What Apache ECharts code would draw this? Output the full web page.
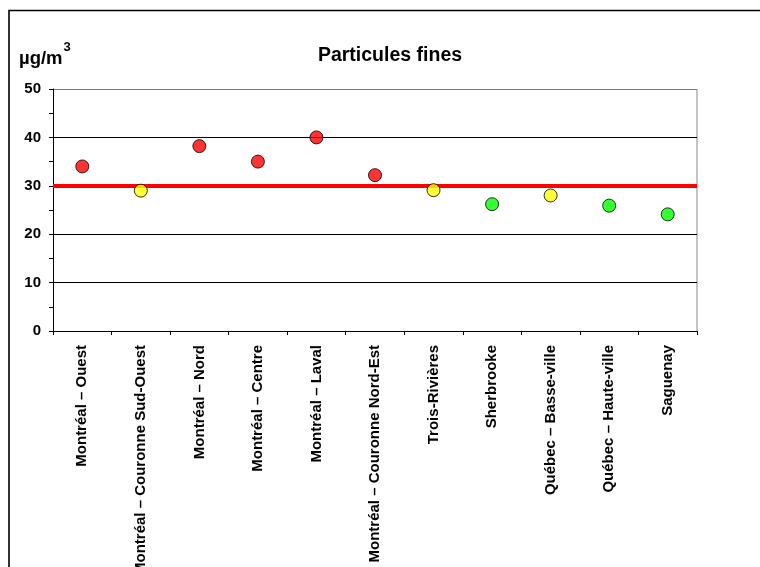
<!DOCTYPE html>
<html>
<head>
<meta charset="utf-8">
<style>
  html, body { margin: 0; padding: 0; background: #fff; }
  #chart { width: 760px; height: 567px; }
</style>
<script src="https://cdn.jsdelivr.net/npm/echarts@6/dist/echarts.min.js"></script>
</head>
<body>
<div id="chart"></div>
<script>
// Stations and fine-particle concentrations (µg/m³)
const stations = [
  'Montréal – Ouest',
  'Montréal – Couronne Sud-Ouest',
  'Montréal – Nord',
  'Montréal – Centre',
  'Montréal – Laval',
  'Montréal – Couronne Nord-Est',
  'Trois-Rivières',
  'Sherbrooke',
  'Québec – Basse-ville',
  'Québec – Haute-ville',
  'Saguenay'
];
const concentrations = [34, 29, 38.2, 35, 40, 32.2, 29.1, 26.2, 28, 25.9, 24.1];
const norm = 30;
const yTicks = [0, 10, 20, 30, 40, 50];

// Colour each station by how it compares with the norm
function levelColor(v) {
  if (v > norm) return '#FF0000';
  if (v >= norm - 3) return '#FFFF00';
  return '#00FF00';
}

const FONT = '"Liberation Sans", Arial, sans-serif';
const chart = echarts.init(document.getElementById('chart'), null, { renderer: 'canvas' });

chart.setOption({
  animation: false,
  backgroundColor: '#fff',
  textStyle: { fontFamily: FONT },
  title: {
    text: 'Particules fines',
    left: 385,
    top: 41,
    textAlign: 'center',
    textStyle: { fontFamily: FONT, fontSize: 19.5, fontWeight: 'bold', color: '#000' }
  },
  graphic: [
    {
      // outer chart frame (open on the right and bottom edges of the view)
      type: 'rect',
      shape: { x: 9, y: 10.5, width: 800, height: 600 },
      style: { fill: 'none', stroke: '#000', lineWidth: 1.6 },
      silent: true
    },
    {
      type: 'text',
      left: 19,
      top: 41,
      style: {
        text: '{u|µg/m}{s|3}',
        rich: {
          u: { fontFamily: FONT, fontSize: 18.5, fontWeight: 'bold', fill: '#000', padding: [8, 0, 0, 0] },
          s: { fontFamily: FONT, fontSize: 13, fontWeight: 'bold', fill: '#000', verticalAlign: 'top', padding: [0, 0, 8, 1] }
        }
      }
    },
    {
      // plot-area border on the right side
      type: 'line',
      shape: { x1: 697, y1: 89, x2: 697, y2: 331 },
      style: { stroke: '#888', lineWidth: 1 },
      silent: true
    }
  ],
  grid: {
    left: 53, right: 63, top: 89, bottom: 236,
    containLabel: false,
    outerBoundsMode: 'none'
  },
  xAxis: {
    type: 'category',
    data: stations,
    boundaryGap: true,
    axisLine: { lineStyle: { color: '#000', width: 1 } },
    axisTick: { show: true, alignWithLabel: false, length: 4, lineStyle: { color: '#000' } },
    axisLabel: {
      rotate: 90,
      interval: 0,
      margin: 14,
      fontFamily: FONT,
      fontSize: 15,
      fontWeight: 'bold',
      color: '#000'
    },
    splitLine: { show: false }
  },
  yAxis: {
    type: 'value',
    min: yTicks[0],
    max: yTicks[yTicks.length - 1],
    interval: 10,
    axisLine: { show: true, lineStyle: { color: '#000', width: 1 } },
    axisTick: { show: true, length: 4, lineStyle: { color: '#000' } },
    minorTick: { show: true, splitNumber: 2, length: 4, lineStyle: { color: '#000' } },
    axisLabel: {
      margin: 12,
      fontFamily: FONT,
      fontSize: 15,
      fontWeight: 'bold',
      color: '#000'
    },
    splitLine: {
      show: true,
      lineStyle: { color: ['#000', '#000', '#000', '#000', '#000', '#777'], width: 1 }
    }
  },
  series: [
    {
      type: 'scatter',
      symbol: 'circle',
      symbolSize: 13,
      data: concentrations.map(v => ({
        value: v,
        itemStyle: { color: levelColor(v), borderColor: '#000', borderWidth: 1 }
      })),
      z: 5,
      markLine: {
        silent: true,
        symbol: ['none', 'none'],
        label: { show: false },
        lineStyle: { color: '#FF0000', width: 4, type: 'solid' },
        data: [{ yAxis: norm }],
        z: 3
      }
    }
  ]
});
</script>
</body>
</html>
